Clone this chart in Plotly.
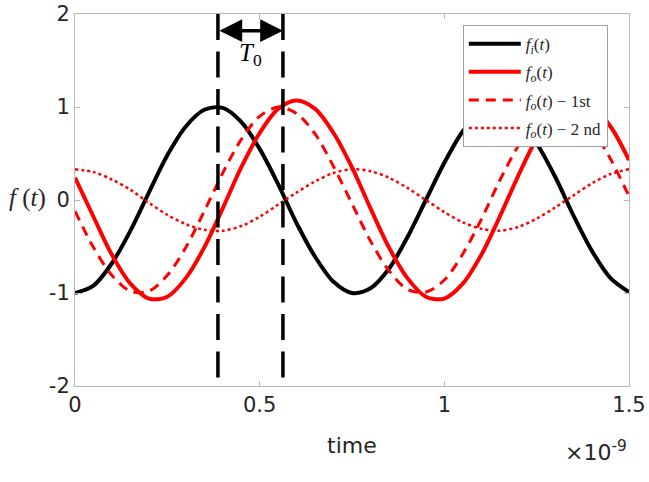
import plotly.graph_objects as go

# ---- data (time in units of 1e-9 s) ----
time_ns = [0.00, 0.05, 0.10, 0.15, 0.20, 0.25, 0.30, 0.35, 0.40, 0.45,
           0.50, 0.55, 0.60, 0.65, 0.70, 0.75, 0.80, 0.85, 0.90, 0.95,
           1.00, 1.05, 1.10, 1.15, 1.20, 1.25, 1.30, 1.35, 1.40, 1.45, 1.50]

f_i = [-1.00, -0.92, -0.68, -0.33, 0.08, 0.48, 0.79, 0.97, 0.99, 0.84,
       0.55, 0.17, -0.25, -0.61, -0.88, -1.00, -0.95, -0.74, -0.40, 0.00,
       0.40, 0.74, 0.95, 1.00, 0.88, 0.61, 0.25, -0.17, -0.55, -0.84, -0.99]

f_o = [0.24, -0.18, -0.59, -0.90, -1.06, -1.04, -0.84, -0.51, -0.09, 0.35,
       0.72, 0.98, 1.07, 0.98, 0.72, 0.35, -0.09, -0.51, -0.84, -1.04,
       -1.06, -0.90, -0.59, -0.18, 0.26, 0.66, 0.94, 1.07, 1.01, 0.79, 0.43]

f_o_1st = [-0.12, -0.51, -0.81, -0.98, -0.98, -0.81, -0.51, -0.12, 0.29, 0.65,
           0.90, 1.00, 0.93, 0.71, 0.36, -0.04, -0.44, -0.76, -0.96, -0.99,
           -0.86, -0.58, -0.21, 0.21, 0.58, 0.86, 0.99, 0.96, 0.76, 0.44, 0.04]

f_o_2nd = [0.33, 0.30, 0.22, 0.11, -0.03, -0.16, -0.26, -0.32, -0.33, -0.28,
           -0.18, -0.05, 0.08, 0.20, 0.29, 0.33, 0.31, 0.24, 0.13, 0.00,
           -0.13, -0.24, -0.31, -0.33, -0.29, -0.20, -0.08, 0.05, 0.18, 0.28, 0.33]

marker_t = [0.387, 0.563]
arrow_y = 1.82
label_T0_y = 1.56

x_tickvals = [0, 0.5, 1, 1.5]
x_ticktext = ["0", "0.5", "1", "1.5"]
y_tickvals = [-2, -1, 0, 1, 2]
y_ticktext = ["-2", "-1", "0", "1", "2"]

legend_names = [
    "<i>f</i><sub><i>i</i></sub>(<i>t</i>)",
    "<i>f</i><sub><i>o</i></sub>(<i>t</i>)",
    "<i>f</i><sub><i>o</i></sub>(<i>t</i>) − 1st",
    "<i>f</i><sub><i>o</i></sub>(<i>t</i>) − 2 nd",
]

SANS = "DejaVu Sans"
SERIF = "Liberation Serif"
AXIS_GREY = "#b8b8b8"
TEXT_GREY = "#262626"

fig = go.Figure()
styles = [
    dict(color="black", width=4, dash="solid"),
    dict(color="#ff0000", width=4, dash="solid"),
    dict(color="#ff0000", width=3, dash="10px,7px"),
    dict(color="#ff0000", width=2.5, dash="dot"),
]
for i, (ys, name, st) in enumerate(zip([f_i, f_o, f_o_1st, f_o_2nd], legend_names, styles)):
    fig.add_trace(go.Scatter(x=time_ns, y=ys, mode="lines", name=name,
                             line=dict(shape="spline", smoothing=0.9, **st),
                             legendgroup=f"g{i}"))

# vertical dashed marker lines
for xv in marker_t:
    fig.add_shape(type="line", xref="x", yref="y", x0=xv, x1=xv, y0=2, y1=-1.93,
                  line=dict(color="black", width=3.5, dash="26px,11.5px"), layer="above")

# double-headed arrow
fig.add_annotation(x=marker_t[1], y=arrow_y, ax=marker_t[0], ay=arrow_y,
                   xref="x", yref="y", axref="x", ayref="y", text="",
                   showarrow=True, arrowhead=2, arrowside="end+start",
                   arrowsize=1.3, arrowwidth=3.5, arrowcolor="black",
                   standoff=0, startstandoff=0)
fig.add_annotation(x=(marker_t[0] + marker_t[1]) / 2, y=label_T0_y, xref="x", yref="y",
                   text="<i>T</i><sub>0</sub>", showarrow=False,
                   font=dict(family=SERIF, size=25, color="black"))

# axis labels
fig.add_annotation(x=0.5, y=-0.161, xref="paper", yref="paper", yanchor="middle",
                   text="time", showarrow=False,
                   font=dict(family=SANS, size=22, color=TEXT_GREY))
fig.add_annotation(x=1.0, y=-0.175, xref="paper", yref="paper", xanchor="right",
                   yanchor="middle", text="×10<sup>-9</sup>", showarrow=False,
                   font=dict(family=SANS, size=22, color=TEXT_GREY))
fig.add_annotation(x=-0.086, y=0.505, xref="paper", yref="paper", xanchor="center",
                   text="<i>f</i> (<i>t</i>)", showarrow=False,
                   font=dict(family=SERIF, size=25, color=TEXT_GREY))

axis_common = dict(showline=True, linecolor=AXIS_GREY, linewidth=1, mirror="ticks",
                   ticks="inside", ticklen=5, tickcolor=AXIS_GREY, tickwidth=1,
                   showgrid=False, zeroline=False, automargin=False,
                   tickfont=dict(family=SANS, size=21, color=TEXT_GREY))

fig.update_layout(
    width=649, height=482,
    margin=dict(l=75, r=20, t=14, b=96, autoexpand=False),
    plot_bgcolor="white", paper_bgcolor="white",
    xaxis=dict(range=[0, 1.5], tickvals=x_tickvals, ticktext=x_ticktext, **axis_common),
    yaxis=dict(range=[-2, 2], tickvals=y_tickvals, ticktext=y_ticktext, **axis_common),
    showlegend=True,
    legend=dict(x=0.70, y=0.97, xanchor="left", yanchor="top",
                bgcolor="white", bordercolor="#a0a0a0", borderwidth=1,
                font=dict(family=SERIF, size=17, color=TEXT_GREY),
                itemwidth=52, tracegroupgap=3),
)

fig.write_html("out.html")
